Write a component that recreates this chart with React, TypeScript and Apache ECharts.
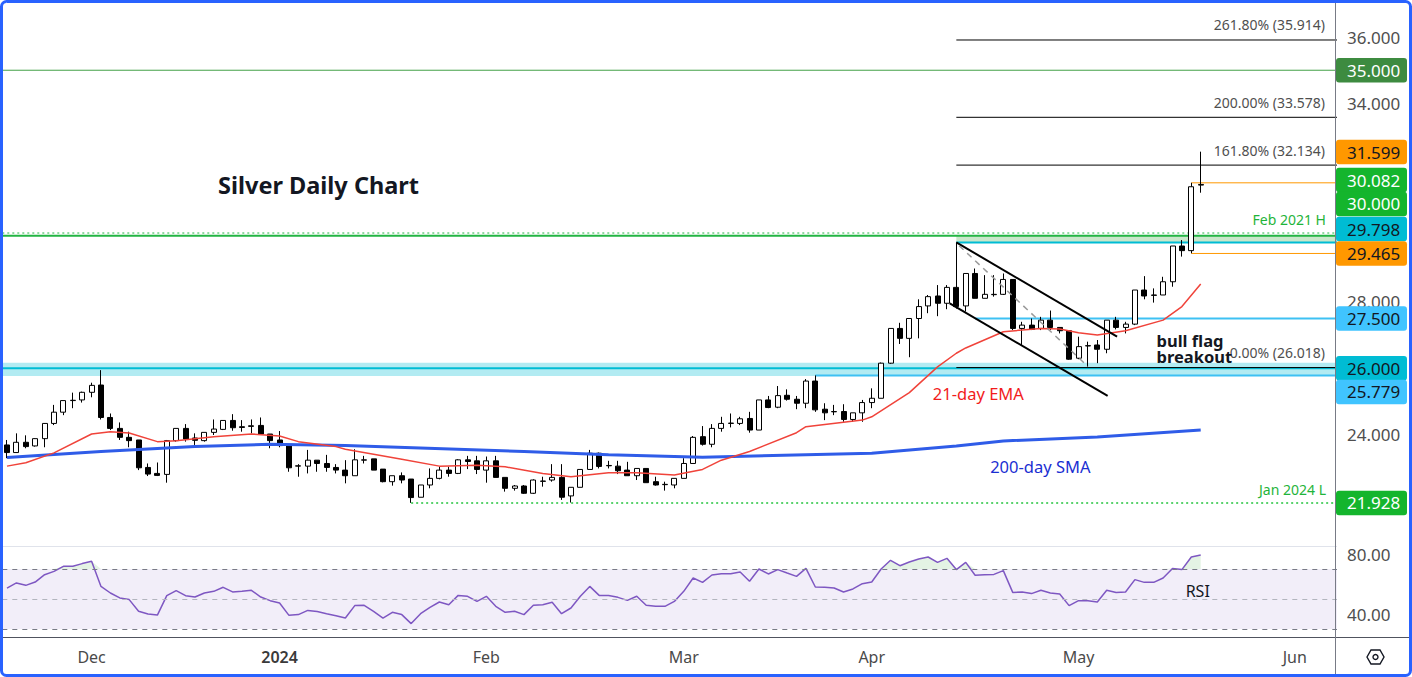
import React, { useEffect, useRef } from "react";
import * as echarts from "echarts";

const FONT = "'Noto Sans', 'DejaVu Sans', sans-serif";
const WIDTH = 1412;
const HEIGHT = 677;

// ---------- categories: trading days (day numbers per month) ----------
const NOV_2023 = [20, 21, 22, 23, 24, 27, 28, 29, 30];
const DEC_2023 = [1, 4, 5, 6, 7, 8, 11, 12, 13, 14, 15, 18, 19, 20, 21, 22, 26, 27, 28, 29];
const JAN_2024 = [2, 3, 4, 5, 8, 9, 10, 11, 12, 15, 16, 17, 18, 19, 22, 23, 24, 25, 26, 29, 30, 31];
const FEB_2024 = [1, 2, 5, 6, 7, 8, 9, 12, 13, 14, 15, 16, 19, 20, 21, 22, 23, 26, 27, 28, 29];
const MAR_2024 = [1, 4, 5, 6, 7, 8, 11, 12, 13, 14, 15, 18, 19, 20, 21, 22, 25, 26, 27, 28];
const APR_2024 = [1, 2, 3, 4, 5, 8, 9, 10, 11, 12, 15, 16, 17, 18, 19, 22, 23, 24, 25, 26, 29, 30];
const MAY_2024 = [1, 2, 3, 6, 7, 8, 9, 10, 13, 14, 15, 16, 17, 20, 21, 22, 23, 24, 27, 28, 29, 30, 31];
const JUN_2024 = [3, 4, 5, 6, 7];

const MONTH_TICK_LABELS: [string, string][] = [
  ["2023-12", "Dec"],
  ["2024-01", "2024"],
  ["2024-02", "Feb"],
  ["2024-03", "Mar"],
  ["2024-04", "Apr"],
  ["2024-05", "May"],
  ["2024-06", "Jun"],
];

const PRICE_TICKS = [24, 28, 34, 36];
const RSI_TICKS = [40, 80];

// ---------- OHLC (Nov 20 2023 .. May 20 2024) ----------
const OPEN = [
  23.68, 23.45, 23.76, 23.65, 23.87, 24.33, 24.67, 25.02, 25.04, 25.27,
  25.49, 24.51, 24.18, 23.91, 23.83, 23.0, 22.82, 22.79, 23.81, 24.18,
  23.89, 23.81, 24.06, 24.15, 24.42, 24.23, 24.24, 24.27, 24.01, 23.83,
  23.68, 23.04, 23.04, 23.22, 23.12, 23.0, 22.92, 22.75, 23.22, 23.26,
  22.95, 22.57, 22.75, 22.65, 22.1, 22.47, 22.67, 22.92, 22.82, 23.23,
  23.2, 22.92, 23.2, 22.7, 22.37, 22.44, 22.22, 22.58, 22.62, 22.7,
  22.14, 22.4, 22.94, 23.43, 23.06, 23.04, 22.92, 22.75, 22.97, 22.57,
  22.48, 22.47, 22.67, 23.12, 23.93, 23.7, 24.18, 24.33, 24.33, 24.48,
  24.13, 25.04, 24.82, 25.18, 25.06, 24.94, 25.61, 24.76, 24.68, 24.69,
  24.45, 24.65, 24.96, 25.09, 26.15, 27.2, 26.9, 27.5, 27.88, 28.18,
  27.96, 28.44, 27.88, 28.86, 28.11, 28.22, 28.23, 28.68, 27.2, 27.3,
  27.2, 27.45, 27.23, 27.13, 26.3, 26.67, 26.7, 26.57, 27.45, 27.23,
  27.33, 28.36, 28.21, 28.21, 28.61, 29.69, 29.55, 31.53,
];
const HIGH = [
  23.83, 24.03, 23.97, 23.88, 24.34, 24.89, 25.02, 25.26, 25.29, 25.56,
  25.94, 24.63, 24.36, 24.08, 23.83, 23.12, 23.15, 23.83, 24.18, 24.31,
  24.03, 24.06, 24.45, 24.42, 24.61, 24.43, 24.45, 24.51, 24.01, 24.1,
  23.68, 23.1, 23.53, 23.22, 23.38, 23.1, 23.22, 23.55, 23.35, 23.26,
  22.95, 22.75, 22.85, 22.65, 22.47, 22.97, 23.02, 23.02, 23.25, 23.35,
  23.35, 23.33, 23.35, 22.7, 22.47, 22.47, 22.64, 22.72, 23.1, 23.1,
  22.4, 22.94, 23.53, 23.45, 23.2, 23.2, 23.17, 22.97, 22.97, 22.72,
  22.57, 22.67, 23.28, 23.95, 24.25, 24.31, 24.53, 24.63, 24.53, 24.68,
  25.04, 25.16, 25.46, 25.36, 25.16, 25.67, 25.78, 24.94, 24.89, 24.91,
  24.65, 25.04, 25.39, 26.17, 27.2, 27.37, 27.5, 28.08, 28.21, 28.51,
  28.51, 29.8, 28.86, 29.01, 28.81, 28.81, 28.86, 28.68, 27.4, 27.5,
  27.55, 27.74, 27.23, 27.13, 26.95, 26.8, 26.85, 27.45, 27.55, 27.4,
  28.36, 28.78, 28.41, 28.76, 29.69, 29.87, 31.6, 32.54,
];
const LOW = [
  23.28, 23.44, 23.58, 23.63, 23.61, 24.28, 24.58, 24.79, 24.96, 25.12,
  24.45, 24.13, 23.83, 23.61, 22.92, 22.74, 22.74, 22.54, 23.78, 23.78,
  23.68, 23.78, 23.98, 24.13, 24.11, 24.08, 24.03, 24.01, 23.58, 23.61,
  22.87, 22.72, 22.82, 22.87, 22.87, 22.82, 22.52, 22.75, 23.12, 22.92,
  22.55, 22.45, 22.52, 21.93, 22.1, 22.37, 22.64, 22.72, 22.8, 22.95,
  22.8, 22.54, 22.7, 22.27, 22.3, 22.2, 22.2, 22.42, 22.57, 22.02,
  21.94, 22.4, 22.94, 22.97, 22.97, 22.8, 22.75, 22.62, 22.54, 22.45,
  22.3, 22.37, 22.67, 23.12, 23.66, 23.61, 24.08, 24.21, 24.28, 24.05,
  24.13, 24.79, 24.79, 25.02, 24.76, 24.79, 24.68, 24.43, 24.58, 24.38,
  24.38, 24.38, 24.79, 25.09, 26.13, 26.73, 26.33, 26.9, 27.66, 27.57,
  27.78, 27.8, 27.71, 28.11, 28.11, 28.16, 28.21, 27.15, 26.7, 27.15,
  27.15, 27.15, 27.05, 26.25, 26.27, 26.02, 26.15, 26.45, 27.17, 27.05,
  27.3, 28.08, 27.98, 28.21, 28.46, 29.37, 29.47, 31.3,
];
const CLOSE = [
  23.45, 23.76, 23.63, 23.87, 24.33, 24.67, 25.02, 25.03, 25.27, 25.48,
  24.51, 24.18, 23.91, 23.81, 22.99, 22.8, 22.76, 23.81, 24.18, 23.86,
  23.82, 24.06, 24.16, 24.42, 24.2, 24.21, 24.26, 24.01, 23.81, 23.66,
  22.99, 23.05, 23.22, 23.12, 23.0, 22.92, 22.75, 23.23, 23.23, 22.92,
  22.57, 22.75, 22.62, 22.09, 22.47, 22.67, 22.92, 22.82, 23.23, 23.18,
  22.94, 23.2, 22.7, 22.37, 22.44, 22.22, 22.62, 22.59, 22.7, 22.1,
  22.4, 22.94, 23.43, 23.03, 23.05, 22.9, 22.75, 22.97, 22.54, 22.47,
  22.49, 22.67, 23.12, 23.91, 23.7, 24.18, 24.33, 24.34, 24.47, 24.13,
  25.04, 24.81, 25.17, 25.06, 24.94, 25.61, 24.74, 24.65, 24.69, 24.45,
  24.65, 24.96, 25.09, 26.15, 27.2, 26.9, 27.5, 27.86, 28.16, 27.96,
  28.44, 27.86, 28.86, 28.11, 28.23, 28.23, 28.68, 27.2, 27.3, 27.17,
  27.45, 27.23, 27.13, 26.27, 26.65, 26.68, 26.57, 27.45, 27.23, 27.33,
  28.36, 28.18, 28.2, 28.61, 29.69, 29.55, 31.48, 31.55,
];

// ---------- moving averages (read at bar index) ----------
const EMA21_POINTS = [
  [0, 23.04], [2, 23.14], [5, 23.44], [9, 24.01], [11, 24.08], [13, 24.04], [16, 23.78],
  [18, 23.81], [22, 23.93], [26, 24.01], [29, 23.95], [31, 23.78], [35, 23.63], [36, 23.55],
  [42, 23.25], [46, 23.04], [50, 23.07], [53, 23.02], [57, 22.82], [60, 22.72], [64, 22.84],
  [67, 22.84], [71, 22.77], [74, 22.94], [76, 23.22], [79, 23.48], [84, 24.05], [85, 24.23],
  [91, 24.43], [92, 24.53], [96, 25.26], [99, 26.04], [101, 26.45], [102, 26.61], [106, 27.1],
  [110, 27.2], [112, 27.18], [114, 27.07], [116, 27.0], [119, 27.13], [123, 27.45],
  [125, 27.86], [127, 28.54],
];
const SMA200_POINTS = [
  [0, 23.3], [10, 23.48], [20, 23.63], [28, 23.7], [36, 23.66], [55, 23.48], [64, 23.38],
  [74, 23.31], [92, 23.43], [101, 23.65], [106, 23.8], [116, 23.92], [127, 24.13],
];

// ---------- RSI(14) ----------
const RSI14 = [
  57.3, 60.7, 59.1, 61.3, 66.2, 68.4, 71.8, 71.8, 73.6, 75.1,
  58.4, 54.0, 50.7, 49.6, 41.8, 40.0, 39.3, 52.2, 55.6, 52.2,
  51.3, 54.0, 55.1, 57.8, 54.7, 55.1, 55.8, 51.3, 48.9, 47.3,
  39.1, 39.6, 42.4, 41.6, 40.2, 38.9, 37.3, 45.6, 45.8, 41.8,
  37.3, 41.1, 39.6, 33.6, 40.2, 44.4, 48.0, 46.2, 52.4, 51.8,
  48.4, 51.8, 45.1, 41.1, 41.8, 39.6, 45.8, 46.2, 47.8, 40.2,
  44.0, 51.8, 58.4, 52.4, 52.4, 51.1, 49.1, 51.8, 45.8, 45.1,
  45.1, 48.4, 55.1, 64.0, 61.1, 66.0, 66.9, 66.9, 68.0, 61.8,
  70.0, 66.7, 69.6, 67.3, 65.1, 70.4, 58.0, 57.8, 57.3, 54.7,
  56.7, 60.2, 61.3, 70.0, 75.8, 72.2, 74.7, 76.7, 78.0, 74.4,
  77.1, 69.6, 74.4, 65.8, 66.2, 66.4, 68.9, 54.4, 54.7, 53.6,
  55.8, 54.0, 53.3, 45.6, 48.9, 48.9, 48.0, 55.8, 54.4, 54.7,
  62.9, 61.1, 61.1, 64.0, 70.4, 69.6, 78.0, 79.3,
];
const RSI_OVERBOUGHT = 70;
const RSI_MIDLINE = 50;
const RSI_OVERSOLD = 30;

// ---------- key levels ----------
const ROUND_35 = 35.0;
const FEB2021_HIGH = 30.0;
const FEB2021_WICK = 30.082;
const APR12_HIGH = 29.798;
const MAY17_HIGH = 31.599;
const MAY17_LOW = 29.465;
const FLAG_BASE = 27.5;
const SUPPORT_26 = 26.0;
const SUPPORT_ZONE = [25.76, 26.16];
const MAR21_HIGH = 25.779;
const JAN2024_LOW = 21.928;
const FIB_RATIOS = ["261.80%", "200.00%", "161.80%", "0.00%"];
const FIB_VALUES = [35.914, 33.578, 32.134, 26.018];

// anchors (bar indices)
const FIB_START = 101;
const FLAG_BASE_START = 103;
const MAR21_START = 86;
const JAN_LOW_START = 43;
const MAY17_START = 126;
const FLAG_UPPER = [[101, 29.8], [118.1, 26.95]];
const FLAG_LOWER = [[100.3, 27.96], [117.1, 25.16]];
const FLAG_MID = [[101.3, 29.7], [115, 26.05]];

// ---------- derived ----------
const buildDates = (): string[] => {
  const months: [string, number[]][] = [
    ["2023-11", NOV_2023], ["2023-12", DEC_2023], ["2024-01", JAN_2024], ["2024-02", FEB_2024],
    ["2024-03", MAR_2024], ["2024-04", APR_2024], ["2024-05", MAY_2024], ["2024-06", JUN_2024],
  ];
  const out: string[] = [];
  months.forEach(([ym, days]) => days.forEach((d) => out.push(`${ym}-${String(d).padStart(2, "0")}`)));
  return out;
};
const DATES = buildDates();
const TICK_TEXT: Record<number, string> = {};
MONTH_TICK_LABELS.forEach(([ym, label]) => {
  const i = DATES.findIndex((d) => d.startsWith(ym));
  if (i >= 0) TICK_TEXT[i] = label;
});

const X_MIN = -0.5;
const X_MAX = DATES.length - 0.5;
const PRICE_MIN = 20.627;
const PRICE_MAX = 37.122;
const RSI_MIN = 24.667;
const RSI_MAX = 84.667;

const GRID_LEFT = 2.3;
const GRID_RIGHT = 75;

function seg(points: number[][], color: string, width: number, type: any = "solid", z = 2) {
  return {
    type: "line",
    xAxisIndex: 1,
    yAxisIndex: 0,
    data: points,
    symbol: "none",
    silent: true,
    z,
    lineStyle: { color, width, type },
    emphasis: { disabled: true },
  };
}

const full = (v: number) => [[X_MIN, v], [X_MAX, v]];
const from = (x: number, v: number) => [[x, v], [X_MAX, v]];

function buildOption(): any {
  const series: any[] = [
    // 0: zones
    {
      type: "line",
      xAxisIndex: 1,
      yAxisIndex: 0,
      data: [[X_MIN, SUPPORT_26]],
      symbol: "none",
      silent: true,
      z: 1,
      lineStyle: { width: 0 },
      markArea: {
        silent: true,
        data: [
          [{ yAxis: SUPPORT_ZONE[0], itemStyle: { color: "rgba(0,188,212,0.3)" } }, { yAxis: SUPPORT_ZONE[1] }],
          [
            { coord: [FIB_START, FEB2021_HIGH], itemStyle: { color: "rgba(76,175,80,0.3)" } },
            { coord: [X_MAX, APR12_HIGH] },
          ],
        ],
      },
    },
    seg(full(ROUND_35), "#43a047", 1),
    seg(full(FEB2021_WICK), "#22b543", 1, [2, 3]),
    seg(full(FEB2021_HIGH), "#22b543", 2),
    seg(from(FIB_START, APR12_HIGH), "#00bcd4", 2),
    seg(from(MAY17_START, MAY17_HIGH), "#ff9800", 1),
    seg(from(MAY17_START, MAY17_LOW), "#ff9800", 1),
    seg(from(FLAG_BASE_START, FLAG_BASE), "#3ec1f3", 2),
    seg(full(SUPPORT_26), "#00bcd4", 2),
    seg(from(MAR21_START, MAR21_HIGH), "#3ec1f3", 2),
    seg(from(JAN_LOW_START, JAN2024_LOW), "#22c33c", 1.5, [2, 3]),
    ...FIB_VALUES.map((v) => seg(from(FIB_START, v), "#000000", 1)),
    {
      type: "candlestick",
      xAxisIndex: 0,
      yAxisIndex: 0,
      data: OPEN.map((o, i) => [o, CLOSE[i], LOW[i], HIGH[i]]),
      barWidth: 5.5,
      z: 3,
      silent: true,
      itemStyle: {
        color: "#ffffff",
        color0: "#000000",
        borderColor: "#000000",
        borderColor0: "#000000",
        borderWidth: 1,
      },
    },
    seg(SMA200_POINTS, "#2f5ce8", 3, "solid", 4),
    seg(EMA21_POINTS, "#f0433a", 1.5, "solid", 4),
    seg(FLAG_UPPER, "#000000", 2, "solid", 5),
    seg(FLAG_LOWER, "#000000", 2, "solid", 5),
    seg(FLAG_MID, "#9a9a9a", 1.5, [6, 5], 5),
  ];

  const rsiIndex = series.length;
  series.push(
    {
      type: "line",
      xAxisIndex: 2,
      yAxisIndex: 1,
      data: RSI14,
      symbol: "none",
      silent: true,
      z: 4,
      lineStyle: { color: "#7e57c2", width: 1.5 },
      markArea: {
        silent: true,
        itemStyle: { color: "rgba(126,87,194,0.1)" },
        data: [[{ yAxis: RSI_OVERSOLD }, { yAxis: RSI_OVERBOUGHT }]],
      },
      markLine: {
        silent: true,
        symbol: "none",
        label: { show: false },
        lineStyle: { color: "#787b86", width: 1, type: [5, 5] },
        data: [
          { yAxis: RSI_OVERBOUGHT },
          { yAxis: RSI_MIDLINE, lineStyle: { color: "#b2b5be", width: 1, type: [5, 5] } },
          { yAxis: RSI_OVERSOLD },
        ],
      },
    },
    {
      type: "line",
      xAxisIndex: 2,
      yAxisIndex: 1,
      data: RSI14.map(() => RSI_OVERBOUGHT),
      stack: "ob",
      symbol: "none",
      silent: true,
      z: 3,
      lineStyle: { width: 0, opacity: 0 },
    },
    {
      type: "line",
      xAxisIndex: 2,
      yAxisIndex: 1,
      data: RSI14.map((v) => Math.max(v - RSI_OVERBOUGHT, 0)),
      stack: "ob",
      symbol: "none",
      silent: true,
      z: 3,
      lineStyle: { width: 0, opacity: 0 },
      areaStyle: { color: "rgba(76,175,80,0.22)" },
    }
  );

  return {
    animation: false,
    backgroundColor: "#ffffff",
    textStyle: { fontFamily: FONT },
    grid: [
      { left: GRID_LEFT, right: GRID_RIGHT, top: 0, height: 546 },
      { left: GRID_LEFT, right: GRID_RIGHT, top: 547, height: 90 },
    ],
    xAxis: [
      { type: "category", gridIndex: 0, data: DATES, boundaryGap: true, show: false },
      { type: "value", gridIndex: 0, min: X_MIN, max: X_MAX, show: false },
      {
        type: "category",
        gridIndex: 1,
        data: DATES,
        boundaryGap: true,
        axisLine: { show: false },
        axisTick: { show: false },
        splitLine: { show: false },
        axisLabel: {
          interval: (i: number) => TICK_TEXT[i] !== undefined,
          formatter: (_v: string, i: number) =>
            TICK_TEXT[i] === "2024" ? "{y|2024}" : TICK_TEXT[i] || "",
          color: "#4a4a4a",
          fontSize: 16,
          fontFamily: FONT,
          margin: 12,
          rich: { y: { fontWeight: 600, fontSize: 16, color: "#3a3a3a", fontFamily: FONT } },
        },
      },
    ],
    yAxis: [
      {
        type: "value",
        gridIndex: 0,
        position: "right",
        min: PRICE_MIN,
        max: PRICE_MAX,
        splitLine: { show: false },
        axisLine: { show: false },
        axisTick: { show: false },
        axisLabel: {
          customValues: PRICE_TICKS,
          formatter: (v: number) => v.toFixed(3),
          color: "#4f4f4f",
          fontSize: 17,
          fontFamily: FONT,
          margin: 10,
        },
      },
      {
        type: "value",
        gridIndex: 1,
        position: "right",
        min: RSI_MIN,
        max: RSI_MAX,
        splitLine: { show: false },
        axisLine: { show: false },
        axisTick: { show: false },
        axisLabel: {
          customValues: RSI_TICKS,
          formatter: (v: number) => v.toFixed(2),
          color: "#4f4f4f",
          fontSize: 17,
          fontFamily: FONT,
          margin: 10,
        },
      },
    ],
    series,
    _rsiIndex: rsiIndex,
  };
}

function buildGraphics(chart: any, rsiIndex: number): any[] {
  const P = (x: number, y: number) => chart.convertToPixel({ seriesIndex: 0 }, [x, y]) as number[];
  const R = (x: number, y: number) => chart.convertToPixel({ seriesIndex: rsiIndex }, [x, y]) as number[];
  const gx = (v: number) => P(v, PRICE_MIN)[0];
  const gy = (v: number) => P(0, v)[1];
  const ry = (v: number) => R(0, v)[1];
  const right = gx(X_MAX);
  const priceBottom = gy(PRICE_MIN);
  const rsiBottom = ry(RSI_MIN);

  const els: any[] = [];
  const text = (
    t: string,
    x: number,
    y: number,
    o: { color?: string; size?: number; weight?: any; align?: string; z?: number; lh?: number } = {}
  ) => ({
    type: "text",
    z: o.z ?? 60,
    silent: true,
    style: {
      text: t,
      x,
      y,
      fill: o.color ?? "#131722",
      fontSize: o.size ?? 14,
      fontFamily: FONT,
      fontWeight: o.weight ?? "normal",
      align: o.align ?? "left",
      textAlign: o.align ?? "left",
      verticalAlign: "middle",
      textVerticalAlign: "middle",
      lineHeight: o.lh,
    },
  });

  // pane separators
  els.push({
    type: "line", z: 40, silent: true,
    shape: { x1: 0, y1: priceBottom + 0.5, x2: right, y2: priceBottom + 0.5 },
    style: { stroke: "#e0e3eb", lineWidth: 1 },
  });
  els.push({
    type: "line", z: 40, silent: true,
    shape: { x1: 0, y1: Math.round(rsiBottom) + 0.5, x2: WIDTH, y2: Math.round(rsiBottom) + 0.5 },
    style: { stroke: "#50535e", lineWidth: 1 },
  });
  els.push({
    type: "line", z: 40, silent: true,
    shape: { x1: Math.round(right) - 1.5, y1: 0, x2: Math.round(right) - 1.5, y2: HEIGHT },
    style: { stroke: "#787b86", lineWidth: 1 },
  });

  // title
  els.push(text("Silver Daily Chart", 218, 185, { size: 23.5, weight: "bold", color: "#131722" }));

  // fib labels
  FIB_VALUES.forEach((v, i) => {
    els.push(text(`${FIB_RATIOS[i]} (${v.toFixed(3)})`, right - 12, gy(v) - 15, {
      size: 14, color: "#4f4f4f", align: "right",
    }));
  });
  els.push(text("Feb 2021 H", right - 11, gy(FEB2021_HIGH) - 16, { size: 14, color: "#1fb43a", align: "right" }));
  els.push(text("Jan 2024 L", right - 11, gy(JAN2024_LOW) - 13, { size: 14, color: "#1fb43a", align: "right" }));

  // indicator / pattern labels
  els.push(text("21-day EMA", gx(98.5), gy(25.22), { size: 16.5, color: "#f21c1c" }));
  els.push(text("200-day SMA", gx(104.6), gy(23.04), { size: 16.5, color: "#1b2fd2" }));
  els.push(text("bull flag", gx(122.3), gy(26.85), { size: 16.5, weight: "bold", color: "#131722", z: 62 }));
  els.push(text("breakout", gx(122.3), gy(26.34), { size: 16.5, weight: "bold", color: "#131722", z: 62 }));
  els.push(text("RSI", gx(125.4), ry(55.3), { size: 16, color: "#131722" }));

  // price tags on the axis
  const tags: { v: number; bg: string; fg: string; shift: number }[] = [
    { v: ROUND_35, bg: "#3d8b40", fg: "#ffffff", shift: 0 },
    { v: MAY17_HIGH, bg: "#ff9800", fg: "#131722", shift: -30.8 },
    { v: FEB2021_WICK, bg: "#14b52d", fg: "#ffffff", shift: -53 },
    { v: FEB2021_HIGH, bg: "#14b52d", fg: "#ffffff", shift: -31.8 },
    { v: APR12_HIGH, bg: "#00bcd4", fg: "#131722", shift: -13.4 },
    { v: MAY17_LOW, bg: "#ff9800", fg: "#131722", shift: 0 },
    { v: FLAG_BASE, bg: "#40c4ff", fg: "#131722", shift: 0 },
    { v: SUPPORT_26, bg: "#00bcd4", fg: "#131722", shift: 0 },
    { v: MAR21_HIGH, bg: "#40c4ff", fg: "#131722", shift: 16.5 },
    { v: JAN2024_LOW, bg: "#14b52d", fg: "#ffffff", shift: 0 },
  ];
  tags.forEach((t) => {
    const yc = gy(t.v) + t.shift;
    els.push({
      type: "rect", z: 70, silent: true,
      shape: { x: Math.round(right) - 1, y: yc - 12.25, width: 71, height: 24.5, r: 3 },
      style: { fill: t.bg },
    });
    els.push(text(t.v.toFixed(3), Math.round(right) + 10, yc, { size: 17, color: t.fg, z: 71 }));
  });

  // settings icon
  const cx = (right + WIDTH) / 2 + 1;
  const cy = (rsiBottom + HEIGHT) / 2;
  els.push({
    type: "polygon", z: 70, silent: true,
    shape: {
      points: [
        [cx - 8.5, cy], [cx - 4.5, cy - 7], [cx + 4.5, cy - 7],
        [cx + 8.5, cy], [cx + 4.5, cy + 7], [cx - 4.5, cy + 7],
      ],
    },
    style: { fill: "none", stroke: "#131722", lineWidth: 1.4 },
  });
  els.push({
    type: "circle", z: 70, silent: true,
    shape: { cx, cy, r: 2.5 },
    style: { fill: "none", stroke: "#131722", lineWidth: 1.4 },
  });

  // outer frame
  els.push({
    type: "rect", z: 100, silent: true,
    shape: { x: 1.5, y: 1.5, width: WIDTH - 3, height: HEIGHT - 3, r: 5 },
    style: { fill: "none", stroke: "#2962ff", lineWidth: 3 },
  });
  return els;
}

export default function App() {
  const ref = useRef<HTMLDivElement>(null);
  useEffect(() => {
    if (!ref.current) return;
    const chart = echarts.init(ref.current, null, { renderer: "svg" });
    const option = buildOption();
    const rsiIndex = option._rsiIndex;
    delete option._rsiIndex;
    chart.setOption(option);
    chart.setOption({ graphic: { elements: buildGraphics(chart, rsiIndex) } });
    return () => chart.dispose();
  }, []);
  return (
    <div
      ref={ref}
      style={{ position: "fixed", left: 0, top: 0, width: WIDTH, height: HEIGHT, background: "#fff" }}
    />
  );
}
